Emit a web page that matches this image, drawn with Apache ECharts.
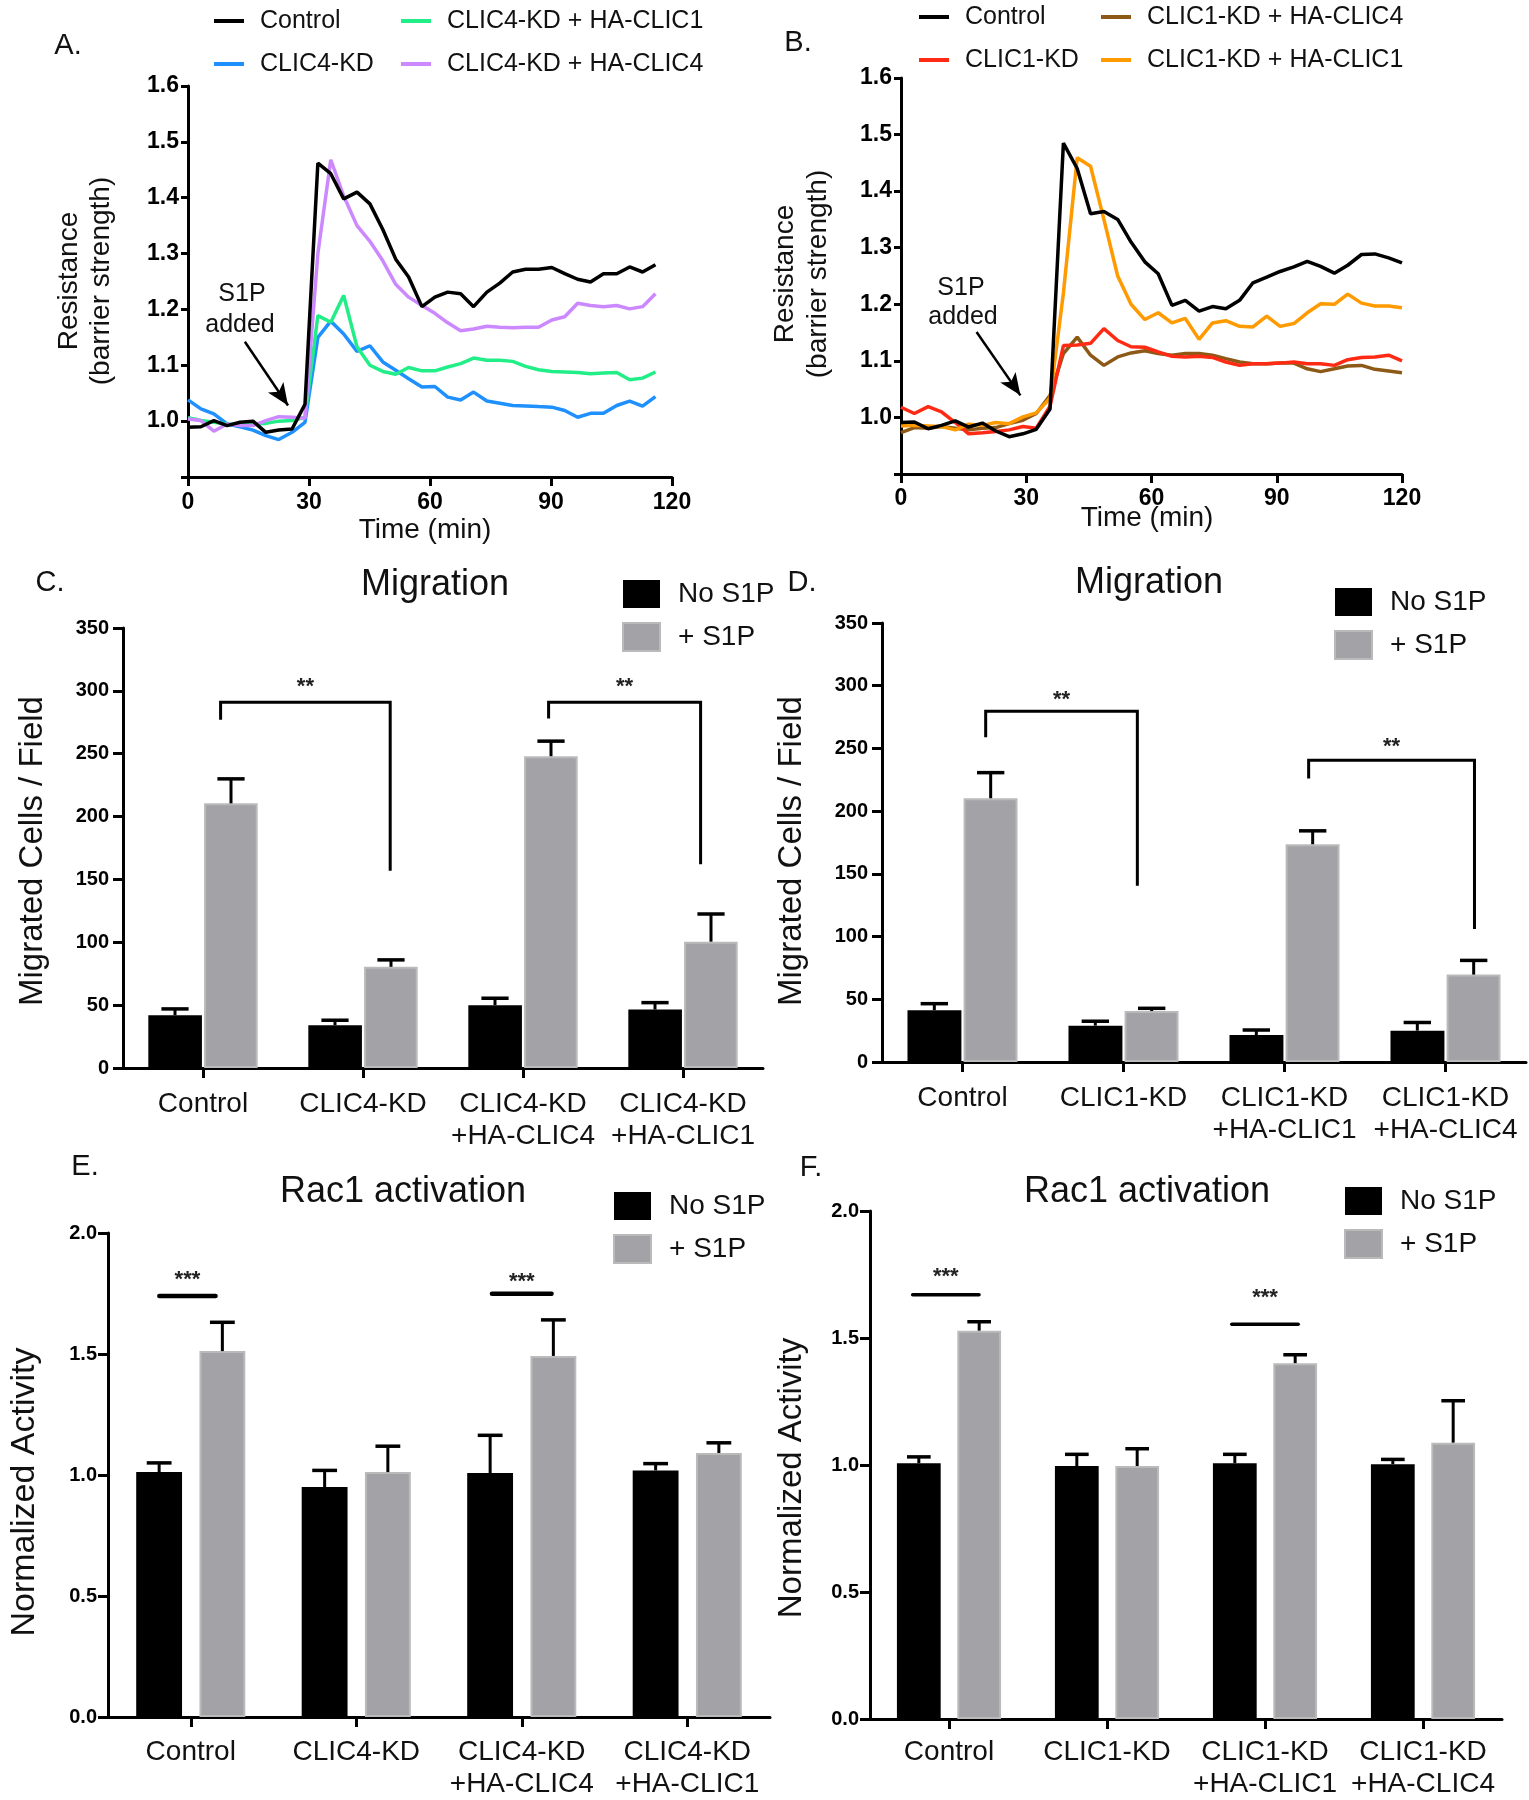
<!DOCTYPE html>
<html><head><meta charset="utf-8">
<script src="https://cdn.jsdelivr.net/npm/echarts@6/dist/echarts.min.js"></script>
<style>html,body{margin:0;padding:0;background:#fff}#c{width:1529px;height:1800px}</style>
</head><body><div id="c"></div>
<script>
// ---------------- DATA ----------------
// Panel A: trans-endothelial resistance
const timeA = [0,3.2,6.4,9.7,12.9,16.1,19.3,22.5,25.8,29.0,32.2,35.4,38.6,41.9,45.1,48.3,51.5,54.7,58.0,61.2,64.4,67.6,70.8,74.1,77.3,80.5,83.7,86.9,90.2,93.4,96.6,99.8,103.0,106.3,109.5,112.7,115.9];
const controlA = [0.989,0.990,1.001,0.992,0.998,1.000,0.980,0.984,0.986,1.030,1.462,1.443,1.398,1.410,1.389,1.343,1.290,1.258,1.205,1.222,1.231,1.228,1.205,1.231,1.247,1.267,1.272,1.272,1.275,1.264,1.254,1.249,1.264,1.264,1.276,1.267,1.280];
const clic4KdA = [1.038,1.022,1.013,0.995,0.990,0.984,0.974,0.967,0.980,0.998,1.150,1.179,1.156,1.125,1.135,1.106,1.091,1.076,1.061,1.062,1.043,1.038,1.052,1.036,1.032,1.028,1.027,1.026,1.025,1.019,1.007,1.014,1.014,1.028,1.036,1.027,1.044];
const clic4KdHaClic1A = [1.006,1.001,0.998,0.995,0.994,0.995,0.996,1.000,1.001,1.007,1.189,1.177,1.225,1.133,1.100,1.089,1.084,1.096,1.090,1.090,1.097,1.103,1.113,1.109,1.109,1.107,1.098,1.092,1.089,1.088,1.087,1.085,1.086,1.087,1.074,1.077,1.088];
const clic4KdHaClic4A = [1.004,1.001,0.982,0.995,0.992,0.992,1.001,1.008,1.007,1.005,1.300,1.468,1.403,1.350,1.322,1.287,1.245,1.222,1.207,1.193,1.176,1.162,1.165,1.170,1.168,1.167,1.168,1.168,1.181,1.187,1.211,1.207,1.205,1.207,1.201,1.205,1.228];
const arrowA = [[14.1,1.142],[24.8,1.028]];

// Panel B
const timeB = [0,3.2,6.5,9.7,13.0,16.2,19.5,22.7,25.9,29.2,32.4,35.7,38.9,42.2,45.4,48.6,51.9,55.1,58.4,61.6,64.9,68.1,71.4,74.6,77.8,81.1,84.3,87.6,90.8,94.1,97.3,100.5,103.8,107.0,110.3,113.5,116.8,120];
const controlB = [0.991,0.992,0.980,0.986,0.994,0.983,0.990,0.976,0.966,0.971,0.979,1.015,1.485,1.440,1.360,1.364,1.350,1.310,1.275,1.254,1.198,1.207,1.188,1.196,1.192,1.207,1.238,1.248,1.258,1.266,1.276,1.267,1.255,1.269,1.288,1.289,1.282,1.273];
const clic1KdB = [1.018,1.007,1.019,1.010,0.991,0.971,0.973,0.975,0.978,0.984,0.981,1.020,1.127,1.128,1.131,1.157,1.136,1.125,1.124,1.116,1.108,1.107,1.108,1.106,1.098,1.092,1.095,1.095,1.096,1.098,1.095,1.095,1.092,1.102,1.106,1.107,1.110,1.100];
const clic1KdHaClic4B = [0.973,0.982,0.981,0.984,0.981,0.978,0.981,0.982,0.989,0.995,1.007,1.039,1.113,1.142,1.110,1.092,1.107,1.114,1.118,1.113,1.110,1.113,1.113,1.110,1.104,1.098,1.095,1.095,1.096,1.096,1.086,1.081,1.086,1.091,1.092,1.085,1.082,1.079];
const clic1KdHaClic1B = [0.985,0.986,0.985,0.984,0.978,0.988,0.986,0.991,0.989,1.001,1.008,1.034,1.220,1.459,1.444,1.350,1.250,1.200,1.173,1.185,1.167,1.175,1.138,1.167,1.171,1.161,1.160,1.179,1.161,1.166,1.185,1.201,1.200,1.218,1.202,1.197,1.197,1.194];
const arrowB = [[18.1,1.151],[28.6,1.039]];

// Panel C: migration (CLIC4)
const catsC = ['Control','CLIC4-KD','CLIC4-KD\n+HA-CLIC4','CLIC4-KD\n+HA-CLIC1'];
const noS1pC = [42, 34, 50, 46.5];
const noS1pSemC = [5, 4, 5.5, 5.5];
const plusS1pC = [210.5, 80.5, 248, 100.5];
const plusS1pSemC = [19.5, 5.5, 12, 22];
const bracketsC = [[0, 1, 291, 277, 157, 307], [2, 3, 291, 278, 162, 307]];

// Panel D: migration (CLIC1)
const catsD = ['Control','CLIC1-KD','CLIC1-KD\n+HA-CLIC1','CLIC1-KD\n+HA-CLIC4'];
const noS1pD = [41.3, 29, 21.5, 25];
const noS1pSemD = [5.2, 3.5, 4, 6.5];
const plusS1pD = [210.3, 40.6, 173.6, 69.7];
const plusS1pSemD = [20.4, 2.2, 10.7, 11.3];
const bracketsD = [[0, 1, 279.6, 259, 140.6, 292.5], [2, 3, 240.5, 226, 106, 255]];

// Panel E: Rac1 activation (CLIC4)
const catsE = ['Control','CLIC4-KD','CLIC4-KD\n+HA-CLIC4','CLIC4-KD\n+HA-CLIC1'];
const noS1pE = [1.012, 0.950, 1.008, 1.019];
const noS1pSemE = [0.038, 0.069, 0.156, 0.028];
const plusS1pE = [1.512, 1.012, 1.492, 1.091];
const plusS1pSemE = [0.119, 0.107, 0.149, 0.042];
const sigE = [[0, 1.74, 1.827], [2, 1.749, 1.818]];

// Panel F: Rac1 activation (CLIC1)
const catsF = ['Control','CLIC1-KD','CLIC1-KD\n+HA-CLIC1','CLIC1-KD\n+HA-CLIC4'];
const noS1pF = [1.007, 0.996, 1.007, 1.003];
const noS1pSemF = [0.025, 0.046, 0.035, 0.019];
const plusS1pF = [1.529, 0.996, 1.401, 1.088];
const plusS1pSemF = [0.035, 0.068, 0.033, 0.165];
const sigF = [[0, 1.67, 1.759], [2, 1.554, 1.678]];

// ---------------- STYLE ----------------
const FONT = '"Liberation Sans", Arial, Helvetica, sans-serif';
const TXT = '#111';
const GRAY = '#a3a3a7';
const GRAY_B = '#bababa';

function lineX(gi, margin) {
  return {gridIndex: gi, type: 'value', min: 0, max: 120, interval: 30,
    axisLine: {show: true, onZero: false, lineStyle: {color: '#000', width: 3}},
    axisTick: {show: true, length: 9, lineStyle: {color: '#000', width: 3}},
    axisLabel: {fontFamily: FONT, fontSize: 23, fontWeight: 'bold', color: '#000', margin: margin},
    splitLine: {show: false}};
}
function lineY(gi) {
  return {gridIndex: gi, type: 'value', min: 0.9, max: 1.6, interval: 0.1,
    axisLine: {show: true, onZero: false, lineStyle: {color: '#000', width: 3}},
    axisTick: {show: true, length: 7, lineStyle: {color: '#000', width: 3}},
    axisLabel: {fontFamily: FONT, fontSize: 23, fontWeight: 'bold', color: '#000', margin: 9,
      formatter: v => (v < 0.95 ? '' : v.toFixed(1))},
    splitLine: {show: false}};
}
function catX(gi, cats, margin) {
  return {gridIndex: gi, type: 'category', data: cats,
    axisLine: {show: true, onZero: false, lineStyle: {color: '#000', width: 3}},
    axisTick: {show: true, alignWithLabel: true, length: 10, lineStyle: {color: '#000', width: 3}},
    axisLabel: {interval: 0, fontFamily: FONT, fontSize: 28, lineHeight: 32, color: TXT, margin: margin},
    splitLine: {show: false}};
}
function valY(gi, max, interval, margin, fmt) {
  return {gridIndex: gi, type: 'value', min: 0, max: max, interval: interval,
    axisLine: {show: true, lineStyle: {color: '#000', width: 3}},
    axisTick: {show: true, length: 10, lineStyle: {color: '#000', width: 3}},
    axisLabel: {fontFamily: FONT, fontSize: 20, fontWeight: 'bold', color: '#000', margin: margin, formatter: fmt},
    splitLine: {show: false}};
}
function lineSeries(name, gi, times, vals, color, extra) {
  return Object.assign({type: 'line', name: name, xAxisIndex: gi, yAxisIndex: gi,
    data: times.map((t, i) => [t, vals[i]]), showSymbol: false, symbol: 'none',
    color: color, lineStyle: {color: color, width: 3.5}, itemStyle: {color: color},
    animation: false, z: 2}, extra || {});
}
function arrowMark(arrow) {
  return {markLine: {silent: true, animation: false, symbol: ['none', 'arrow'], symbolSize: [14, 22],
    lineStyle: {color: '#000', width: 2.5, type: 'solid'}, label: {show: false},
    data: [[{coord: arrow[0]}, {coord: arrow[1]}]]}};
}
function barPair(gi, no, plus, w, gap) {
  return [
    {type: 'bar', name: 'No S1P', xAxisIndex: gi, yAxisIndex: gi, data: no, barWidth: w, barGap: gap,
      itemStyle: {color: '#000'}, animation: false, z: 2},
    {type: 'bar', name: '+ S1P', xAxisIndex: gi, yAxisIndex: gi, data: plus, barWidth: w, barGap: gap,
      itemStyle: {color: GRAY, borderColor: GRAY_B, borderWidth: 2}, animation: false, z: 2}
  ];
}
function errSeries(gi, no, noSem, plus, plusSem, off, capW) {
  const data = [];
  no.forEach((m, i) => data.push([i, m, m + noSem[i], -1]));
  plus.forEach((m, i) => data.push([i, m, m + plusSem[i], 1]));
  return {type: 'custom', xAxisIndex: gi, yAxisIndex: gi, data: data, z: 5, silent: true, animation: false,
    encode: {x: 0, y: [1, 2]},
    renderItem: (params, api) => {
      const band = api.size([1, 0])[0];
      const b = api.coord([api.value(0), api.value(1)]);
      const t = api.coord([api.value(0), api.value(2)]);
      const x = b[0] + api.value(3) * off * band;
      const hw = capW * band / 2;
      return {type: 'group', children: [
        {type: 'line', shape: {x1: x, y1: b[1], x2: x, y2: t[1]}, style: {stroke: '#000', lineWidth: 3}},
        {type: 'line', shape: {x1: x - hw, y1: t[1], x2: x + hw, y2: t[1]}, style: {stroke: '#000', lineWidth: 3.5}}
      ]};
    }};
}
function bracketSeries(gi, rows, legOffsets, text) {
  return {type: 'custom', xAxisIndex: gi, yAxisIndex: gi, data: rows, z: 6, silent: true, animation: false,
    encode: {x: [0, 1], y: [2, 3, 4, 5]},
    renderItem: (params, api) => {
      const band = api.size([1, 0])[0];
      const o = legOffsets[params.dataIndex];
      const pl = api.coord([api.value(0), api.value(2)]);
      const pr = api.coord([api.value(1), api.value(2)]);
      const xl = pl[0] + o[0] * band, xr = pr[0] + o[1] * band, yt = pl[1];
      const yl = api.coord([api.value(0), api.value(3)])[1];
      const yr = api.coord([api.value(1), api.value(4)])[1];
      const ys = api.coord([api.value(0), api.value(5)])[1];
      return {type: 'group', children: [
        {type: 'polyline', shape: {points: [[xl, yl], [xl, yt], [xr, yt], [xr, yr]]},
          style: {stroke: '#000', lineWidth: 3, fill: null}},
        {type: 'text', x: (xl + xr) / 2, y: ys + 5,
          style: {text: text, font: 'bold 22px ' + FONT, fill: '#222', align: 'center', verticalAlign: 'middle'}}
      ]};
    }};
}
function sigSeries(gi, rows, offsets, lw) {
  return {type: 'custom', xAxisIndex: gi, yAxisIndex: gi, data: rows, z: 6, silent: true, animation: false,
    encode: {x: 0, y: [1, 2]},
    renderItem: (params, api) => {
      const band = api.size([1, 0])[0];
      const o = offsets[params.dataIndex];
      const p = api.coord([api.value(0), api.value(1)]);
      const ys = api.coord([api.value(0), api.value(2)])[1];
      const xl = p[0] + o[0] * band, xr = p[0] + o[1] * band;
      return {type: 'group', children: [
        {type: 'line', shape: {x1: xl, y1: p[1], x2: xr, y2: p[1]}, style: {stroke: '#000', lineWidth: lw, lineCap: 'round'}},
        {type: 'text', x: (xl + xr) / 2, y: ys + 5,
          style: {text: '***', font: 'bold 22px ' + FONT, fill: '#222', align: 'center', verticalAlign: 'middle'}}
      ]};
    }};
}
function lineLegend(left, top, names) {
  return {left: left, top: top, orient: 'vertical', padding: 0, itemGap: 13, itemWidth: 30, itemHeight: 4,
    icon: 'rect', data: names, selectedMode: false,
    textStyle: {fontFamily: FONT, fontSize: 25, lineHeight: 30, color: TXT, padding: [0, 0, 0, 11]}};
}
function barLegend(left, top) {
  return {left: left, top: top, orient: 'vertical', padding: 0, itemGap: 11, itemWidth: 37, itemHeight: 28,
    icon: 'rect', data: ['No S1P', '+ S1P'], selectedMode: false,
    textStyle: {fontFamily: FONT, fontSize: 28, lineHeight: 32, color: TXT, padding: [0, 0, 0, 13]}};
}
function txt(x, y, text, size, extra) {
  return Object.assign({type: 'text', x: x, y: y, silent: true,
    style: {text: text, font: size + 'px ' + FONT, fill: TXT, align: 'center', verticalAlign: 'middle'}}, extra || {});
}
function vtxt(x, y, text, size, lh) {
  return {type: 'text', x: x, y: y, rotation: Math.PI / 2, silent: true,
    style: {text: text, font: size + 'px ' + FONT, lineHeight: lh, fill: TXT, align: 'center', verticalAlign: 'middle'}};
}

// ---------------- OPTION ----------------
const option = {
  backgroundColor: '#fff',
  animation: false,
  grid: [
    {left: 188, top: 86, width: 484, height: 391},
    {left: 901, top: 78, width: 501, height: 396},
    {left: 123, top: 628, width: 640, height: 440},
    {left: 882, top: 623, width: 644, height: 439},
    {left: 108, top: 1233, width: 662, height: 484},
    {left: 870, top: 1211, width: 632, height: 508}
  ],
  xAxis: [lineX(0, 14), lineX(1, 13), catX(2, catsC, 20), catX(3, catsD, 20), catX(4, catsE, 19), catX(5, catsF, 17)],
  yAxis: [lineY(0), lineY(1),
    valY(2, 350, 50, 14), valY(3, 350, 50, 14),
    valY(4, 2.0, 0.5, 11, v => v.toFixed(1)), valY(5, 2.0, 0.5, 11, v => v.toFixed(1))],
  legend: [
    lineLegend(214, 6, ['Control', 'CLIC4-KD']),
    lineLegend(401, 6, ['CLIC4-KD + HA-CLIC1', 'CLIC4-KD + HA-CLIC4']),
    lineLegend(919, 2, ['Control', 'CLIC1-KD']),
    lineLegend(1101, 2, ['CLIC1-KD + HA-CLIC4', 'CLIC1-KD + HA-CLIC1']),
    barLegend(622, 578), barLegend(1334, 586), barLegend(613, 1190), barLegend(1344, 1185)
  ],
  series: [
    lineSeries('CLIC4-KD', 0, timeA, clic4KdA, '#1e90ff'),
    lineSeries('CLIC4-KD + HA-CLIC1', 0, timeA, clic4KdHaClic1A, '#22ee88'),
    lineSeries('CLIC4-KD + HA-CLIC4', 0, timeA, clic4KdHaClic4A, '#cc88ff'),
    lineSeries('Control', 0, timeA, controlA, '#000000', arrowMark(arrowA)),
    lineSeries('CLIC1-KD + HA-CLIC4', 1, timeB, clic1KdHaClic4B, '#8c5a16'),
    lineSeries('CLIC1-KD', 1, timeB, clic1KdB, '#ff2a14'),
    lineSeries('CLIC1-KD + HA-CLIC1', 1, timeB, clic1KdHaClic1B, '#ff9a00'),
    lineSeries('Control', 1, timeB, controlB, '#000000', arrowMark(arrowB)),
    ...barPair(2, noS1pC, plusS1pC, '33.5%', '4%'),
    errSeries(2, noS1pC, noS1pSemC, plusS1pC, plusS1pSemC, 0.175, 0.17),
    bracketSeries(2, bracketsC, [[0.11, 0.17], [0.16, 0.11]], '**'),
    ...barPair(3, noS1pD, plusS1pD, '33.5%', '4%'),
    errSeries(3, noS1pD, noS1pSemD, plusS1pD, plusS1pSemD, 0.175, 0.17),
    bracketSeries(3, bracketsD, [[0.144, 0.086], [0.15, 0.18]], '**'),
    ...barPair(4, noS1pE, plusS1pE, '27.7%', '38%'),
    errSeries(4, noS1pE, noS1pSemE, plusS1pE, plusS1pSemE, 0.191, 0.15),
    sigSeries(4, sigE, [[-0.19, 0.15], [-0.18, 0.18]], 4.5),
    ...barPair(5, noS1pF, plusS1pF, '27.7%', '38%'),
    errSeries(5, noS1pF, noS1pSemF, plusS1pF, plusS1pSemF, 0.191, 0.15),
    sigSeries(5, sigF, [[-0.23, 0.19], [-0.21, 0.21]], 3.5)
  ],
  graphic: [
    txt(68, 46, 'A.', 29), txt(798, 43, 'B.', 29),
    txt(50, 583, 'C.', 29), txt(802, 583, 'D.', 29),
    txt(85, 1167, 'E.', 29), txt(811, 1168, 'F.', 29),
    vtxt(85, 281, 'Resistance\n(barrier strength)', 28, 32),
    vtxt(802, 274, 'Resistance\n(barrier strength)', 28, 33),
    txt(425, 530, 'Time (min)', 28), txt(1147, 518, 'Time (min)', 28),
    txt(242, 294, 'S1P', 25), txt(240, 325, 'added', 25),
    txt(961, 288, 'S1P', 25), txt(963, 317, 'added', 25),
    txt(435, 585, 'Migration', 36), txt(1149, 583, 'Migration', 36),
    txt(403, 1192, 'Rac1 activation', 36), txt(1147, 1192, 'Rac1 activation', 36),
    vtxt(33, 851, 'Migrated Cells / Field', 33, 36),
    vtxt(792, 851, 'Migrated Cells / Field', 33, 36),
    vtxt(25, 1492, 'Normalized Activity', 34, 36),
    vtxt(792, 1478, 'Normalized Activity', 33, 36)
  ]
};

const chart = echarts.init(document.getElementById('c'), null, {renderer: 'canvas', width: 1529, height: 1800});
chart.setOption(option);
</script>
</body></html>
